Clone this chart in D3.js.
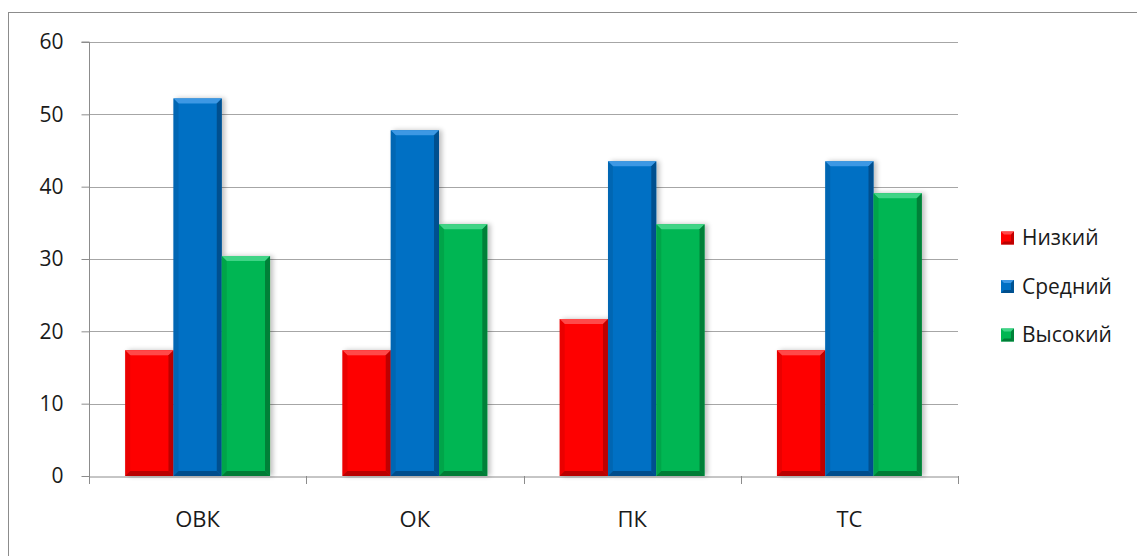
<!DOCTYPE html>
<html><head><meta charset="utf-8">
<script src="https://cdn.jsdelivr.net/npm/d3@7"></script>
<style>html,body{margin:0;padding:0;background:#fff;}svg{display:block;}</style>
</head><body>
<svg id="c" width="1137" height="556"></svg>
<script>
const categories = ["ОВК", "ОК", "ПК", "ТС"];
const seriesNames = ["Низкий", "Средний", "Высокий"];
const lowValues = [17.4, 17.4, 21.7, 17.4];
const midValues = [52.2, 47.8, 43.5, 43.5];
const highValues = [30.4, 34.8, 34.8, 39.1];
const yTicks = [0, 10, 20, 30, 40, 50, 60];
const seriesValues = [lowValues, midValues, highValues];
const colors = [
  {base:"#fe0000", light:"#ff4a4a", dark:"#a80000", mid:"#d80000"},
  {base:"#0070c4", light:"#3d98e4", dark:"#00467e", mid:"#005ea6"},
  {base:"#00b652", light:"#3fd486", dark:"#006e30", mid:"#009842"}
];

const svg = d3.select("#c");
const font = "'Open Sans', sans-serif";
svg.append("rect").attr("x",8.5).attr("y",12.5).attr("width",1140).attr("height",560)
  .attr("fill","none").attr("stroke","#8c8c8c").attr("stroke-width",1);

const pLeft = 89, pRight = 958, pTop = 42, pBottom = 476;
const x = d3.scaleBand().domain(categories).range([pLeft, pRight]).paddingInner(0).paddingOuter(0);
const y = d3.scaleLinear().domain([0, 60]).range([pBottom, pTop]);
const inner = d3.scaleBand().domain(d3.range(3)).range([0, x.bandwidth()]).paddingInner(0).paddingOuter(0.75);

svg.append("g").selectAll("line").data(yTicks.filter(d=>d>0)).join("line")
  .attr("x1", pLeft).attr("x2", pRight)
  .attr("y1", d=>Math.round(y(d))+0.5).attr("y2", d=>Math.round(y(d))+0.5)
  .attr("stroke","#a6a6a6").attr("stroke-width",1);

const yAxis = svg.append("g").attr("transform",`translate(${pLeft+0.5},0)`)
  .call(d3.axisLeft(y).tickValues(yTicks).tickSize(8).tickPadding(18).tickFormat(d3.format("d")));
yAxis.select(".domain").attr("stroke","#8c8c8c").attr("d",`M-8,${pTop}H0V${pBottom}`);
yAxis.selectAll(".tick line").attr("stroke","#8c8c8c");
yAxis.selectAll(".tick text").attr("font-family",font).attr("font-size",21).attr("fill","#1a1a1a");

const xAxis = svg.append("g").attr("transform",`translate(0,${pBottom+0.5})`)
  .call(d3.axisBottom(x).tickSize(0).tickPadding(35));
xAxis.select(".domain").attr("stroke","#8c8c8c");
xAxis.selectAll(".tick text").attr("font-family",font).attr("font-size",22).attr("fill","#1a1a1a");
const sepTicks = [pLeft, ...categories.map(c=>x(c)+x.bandwidth())];
svg.append("g").selectAll("line").data(sepTicks).join("line")
  .attr("x1",d=>Math.round(d)+0.5).attr("x2",d=>Math.round(d)+0.5)
  .attr("y1",pBottom).attr("y2",pBottom+8).attr("stroke","#8c8c8c");

const defs = svg.append("defs");
const flt = defs.append("filter").attr("id","sh").attr("x","-20%").attr("y","-20%").attr("width","150%").attr("height","140%");
flt.append("feGaussianBlur").attr("in","SourceAlpha").attr("stdDeviation",2.5);
flt.append("feOffset").attr("dx",3).attr("dy",0).attr("result","b");
flt.append("feComponentTransfer").append("feFuncA").attr("type","linear").attr("slope",0.25);
const m = flt.append("feMerge"); m.append("feMergeNode"); m.append("feMergeNode").attr("in","SourceGraphic");

const bars = [];
categories.forEach((c,i)=>{
  seriesValues.forEach((vals,s)=>{
    bars.push({c, s, v: vals[i]});
  });
});
const bev = 5;
const g = svg.append("g");
bars.forEach(d=>{
  const x0 = x(d.c) + inner(d.s), w = inner.bandwidth();
  const y0 = y(d.v), y1 = y(0), h = y1 - y0;
  const col = colors[d.s];
  const bg = g.append("g").attr("filter","url(#sh)");
  bg.append("rect").attr("x",x0).attr("y",y0).attr("width",w).attr("height",h).attr("fill",col.base);
  bg.append("polygon").attr("points",[[x0,y0],[x0+w,y0],[x0+w-bev,y0+bev],[x0+bev,y0+bev]].join(" ")).attr("fill",col.light);
  bg.append("polygon").attr("points",[[x0,y0],[x0+bev,y0+bev],[x0+bev,y1-bev],[x0,y1]].join(" ")).attr("fill",col.mid).attr("opacity",0.55);
  bg.append("polygon").attr("points",[[x0+w,y0],[x0+w,y1],[x0+w-bev,y1-bev],[x0+w-bev,y0+bev]].join(" ")).attr("fill",col.dark).attr("opacity",0.75);
  bg.append("polygon").attr("points",[[x0,y1],[x0+w,y1],[x0+w-bev,y1-bev],[x0+bev,y1-bev]].join(" ")).attr("fill",col.dark).attr("opacity",0.8);
});

const lg = svg.append("g");
const legY = d3.scalePoint().domain(seriesNames).range([238, 335]);
seriesNames.forEach((n,s)=>{
  const cy = legY(n), col = colors[s], sz = 13, lx = 1001;
  const yy = cy - sz/2;
  lg.append("rect").attr("x",lx).attr("y",yy).attr("width",sz).attr("height",sz).attr("fill",col.base);
  lg.append("polygon").attr("points",[[lx,yy],[lx+sz,yy],[lx+sz-3,yy+3],[lx+3,yy+3]].join(" ")).attr("fill",col.light);
  lg.append("polygon").attr("points",[[lx+sz,yy],[lx+sz,yy+sz],[lx+sz-3,yy+sz-3],[lx+sz-3,yy+3]].join(" ")).attr("fill",col.dark).attr("opacity",0.7);
  lg.append("polygon").attr("points",[[lx,yy+sz],[lx+sz,yy+sz],[lx+sz-3,yy+sz-3],[lx+3,yy+sz-3]].join(" ")).attr("fill",col.dark).attr("opacity",0.8);
  lg.append("text").attr("x",1022).attr("y",cy).attr("dy","0.35em").attr("font-family",font).attr("font-size",21).attr("fill","#1a1a1a").text(n);
});
</script>
</body></html>
